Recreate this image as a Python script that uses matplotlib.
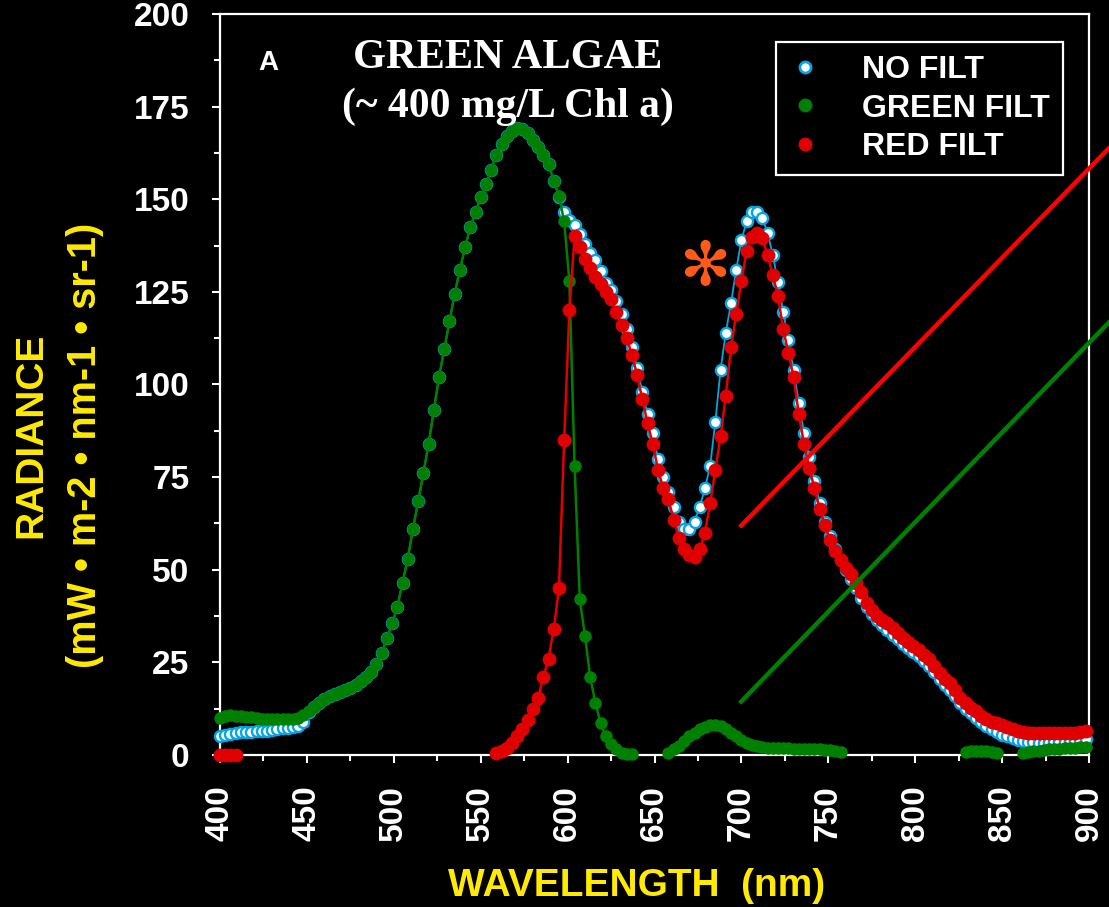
import numpy as np
import matplotlib
matplotlib.use("Agg")
import matplotlib.pyplot as plt
from matplotlib.lines import Line2D

# Sampling grid of the radiometer (nm)
wavelength = np.arange(400, 899, 3)

# NO FILT radiance
no_filt = [
    # 400-445
    5.0, 5.3, 5.6, 5.9, 6.1, 6.2, 6.3, 6.4, 6.5, 6.6, 6.8, 7.0, 7.2, 7.4, 7.6, 7.9,
    # 448-592
    9.0, 11.5, 13.0, 14.0, 15.0, 15.8, 16.5, 17.0, 17.5, 18.2,
    19.0, 20.0, 21.0, 22.5, 24.5, 27.5, 31.5, 35.5, 40.0, 46.5,
    53.0, 61.0, 68.5, 76.0, 84.0, 93.0, 102.0, 109.5, 117.0, 124.5,
    131.0, 137.0, 142.5, 146.5, 150.5, 154.0, 158.0, 162.0, 165.0, 167.0,
    168.5, 169.2, 169.0, 168.0, 166.0, 164.0, 162.0, 159.5, 155.0,
    # 595-898
    150.5, 146.5, 144.5, 143.0, 140.5, 138.0, 135.5, 133.5, 130.5, 127.5,
    125.5, 122.5, 119.0, 115.0, 110.0, 104.5, 98.0, 92.0, 87.0, 80.0,
    75.0, 71.0, 67.0, 63.0, 61.0, 61.0, 63.0, 67.0, 72.0, 78.0,
    90.0, 104.0, 114.0, 122.0, 131.0, 139.0, 144.0, 146.5, 146.6, 145.0,
    141.0, 135.0, 127.7, 119.6, 112.0, 104.0, 95.0, 87.0, 80.5, 74.0,
    68.0, 63.0, 59.0, 55.5, 52.5, 50.0, 47.5, 45.0, 42.5, 40.0,
    38.0, 36.5, 35.0, 33.8, 32.5, 31.3, 30.0, 28.8, 27.8, 26.8,
    25.5, 24.0, 22.3, 20.5, 19.0, 17.5, 15.8, 14.0, 12.5, 11.2,
    10.0, 8.8, 7.8, 7.0, 6.2, 5.5, 5.0, 4.5, 4.1, 3.8,
    3.6, 3.4, 3.3, 3.3, 3.4, 3.5, 3.5, 3.6, 3.7, 3.8,
    4.0, 4.2,
]

# GREEN FILT radiance (nan = below the axis, not drawn)
green_filt = [
    # 400-445
    10.0, 10.5, 10.8, 10.6, 10.5, 10.3, 10.2, 10.0, 9.8, 9.8, 9.7, 9.7, 9.6, 9.6, 9.8, 10.0,
    # 448-592
    10.8, 11.8, 13.0, 14.0, 15.0, 15.8, 16.5, 17.0, 17.5, 18.2,
    19.0, 20.0, 21.0, 22.5, 24.5, 27.5, 31.5, 35.5, 40.0, 46.5,
    53.0, 61.0, 68.5, 76.0, 84.0, 93.0, 102.0, 109.5, 117.0, 124.5,
    131.0, 137.0, 142.5, 146.5, 150.5, 154.0, 158.0, 162.0, 165.0, 167.0,
    168.5, 169.2, 169.0, 168.0, 166.0, 164.0, 162.0, 159.5, 155.0,
    # 595-898
    151.0, 144.0, 128.0, 78.0, 42.0, 32.0, 21.0, 14.0, 8.5, 5.0,
    3.0, 1.5, 0.6, 0.3, 0.2, np.nan, np.nan, np.nan, np.nan, np.nan,
    np.nan, 0.5, 1.5, 2.5, 3.8, 5.0, 6.0, 7.0, 7.5, 8.0,
    8.0, 7.8, 7.0, 6.0, 5.0, 4.0, 3.3, 2.8, 2.5, 2.2,
    2.0, 1.9, 1.9, 1.8, 1.8, 1.7, 1.7, 1.6, 1.6, 1.5,
    1.5, 1.4, 1.3, 1.0, 0.8,
] + [np.nan] * 23 + [
    0.8, 1.0, 1.2, 1.2, 1.0, 0.8, 0.5,
    np.nan, np.nan, np.nan, np.nan,
    0.5, 0.8, 1.0, 1.2, 1.3, 1.5, 1.6, 1.7, 1.8, 1.9,
    2.0, 2.1, 2.2,
]

# RED FILT radiance
red_filt = [0.0, 0.0, 0.0, 0.0] + [np.nan] * 49 + [
    # 559-898
    0.5, 1.0, 2.0, 3.3, 5.0, 7.0, 9.5, 12.5, 15.5, 21.0,
    26.0, 34.0, 45.0, 85.0, 120.0, 140.0, 137.0, 134.0, 131.5, 129.0,
    127.0, 125.0, 123.0, 119.5, 116.0, 112.5, 108.0, 102.5, 96.0, 89.5,
    84.0, 77.0, 72.0, 69.0, 63.5, 58.5, 55.5, 54.0, 53.5, 55.5,
    60.0, 68.0, 77.0, 86.0, 97.0, 110.0, 119.0, 128.0, 136.0, 139.8,
    141.0, 139.5, 135.0, 129.5, 124.0, 115.0, 108.5, 102.0, 92.0, 84.0,
    77.5, 72.0, 66.5, 62.0, 58.0, 55.0, 52.5, 50.5, 48.8, 46.5,
    44.0, 41.0, 39.0, 37.5, 36.5, 35.5, 34.3, 33.0, 31.5, 30.5,
    29.5, 28.3, 27.0, 25.8, 24.0, 22.0, 20.5, 19.3, 17.5, 15.5,
    14.0, 12.8, 11.8, 10.6, 9.8, 9.0, 8.5, 8.0, 7.5, 7.0,
    6.5, 6.2, 6.0, 6.0, 6.0, 6.0, 6.0, 6.0, 6.0, 6.0,
    6.0, 6.0, 6.2, 6.5,
]

# pointer lines drawn on the slide (wavelength, radiance)
red_pointer_x = [699, 915]
red_pointer_y = [61.5, 165.5]
green_pointer_x = [699, 915]
green_pointer_y = [14.0, 118.5]

BLUE = "#00A6E6"
GREEN = "#008000"
RED = "#E00000"
YELLOW = "#FFEA00"

plt.rcParams["font.family"] = ["Liberation Sans", "DejaVu Sans"]
plt.rcParams["font.weight"] = "bold"

fig = plt.figure(figsize=(11.09, 9.07), dpi=100, facecolor="black")
ax = fig.add_axes([0.1984, 0.1676, 0.7836, 0.8170], facecolor="black")

ax.plot(wavelength, no_filt, color=BLUE, lw=1.3, marker="o", ms=8,
        mfc="white", mec=BLUE, mew=1.7, clip_on=False, zorder=3)
ax.plot(wavelength, green_filt, color=GREEN, lw=1.8, marker="o", ms=8,
        mfc=GREEN, mec=GREEN, clip_on=False, zorder=4)
ax.plot(wavelength, red_filt, color=RED, lw=1.8, marker="o", ms=9,
        mfc=RED, mec=RED, clip_on=False, zorder=5)

ax.plot(red_pointer_x, red_pointer_y, color="#FF0000", lw=3.2, clip_on=False,
        solid_capstyle="butt", zorder=6)
ax.plot(green_pointer_x, green_pointer_y, color=GREEN, lw=3.2, clip_on=False,
        solid_capstyle="butt", zorder=6)

ax.set_xlim(400, 900)
ax.set_ylim(0, 200)
ax.set_xticks(np.arange(400, 901, 50))
ax.set_xticks(np.arange(400, 901, 25), minor=True)
ax.set_yticks(np.arange(0, 201, 25))
ax.set_yticks(np.arange(0, 201, 12.5), minor=True)

ax.tick_params(which="both", colors="white", direction="out", width=1.5)
ax.tick_params(which="major", length=6, labelsize=24)
ax.tick_params(which="minor", length=4)
ax.tick_params(axis="x", which="major", labelrotation=90, pad=16)
ax.tick_params(axis="y", which="major", pad=16)

for sp in ax.spines.values():
    sp.set_color("white")
    sp.set_linewidth(1.6)

# legend with markers only
handles = [
    Line2D([], [], ls="none", marker="o", ms=8, mfc="white", mec=BLUE, mew=2),
    Line2D([], [], ls="none", marker="o", ms=9, mfc=GREEN, mec=GREEN),
    Line2D([], [], ls="none", marker="o", ms=9, mfc=RED, mec=RED),
]
leg = ax.legend(handles, ["NO FILT", "GREEN FILT", "RED FILT"],
                loc="upper right", bbox_to_anchor=(0.970, 0.962), borderaxespad=0,
                fancybox=False, edgecolor="white", facecolor="black", framealpha=1,
                prop={"family": "Liberation Sans", "weight": "bold", "size": 23},
                labelcolor="white", handlelength=1.0, handletextpad=1.3,
                labelspacing=0.27, borderpad=0.4)
leg.get_frame().set_linewidth(1.6)

# title and panel letter
fig.text(507.5 / 1109, 1 - 68 / 907, "GREEN ALGAE", ha="center", va="baseline",
         color="white", fontsize=30.5, fontweight="bold", family="Liberation Serif")
fig.text(507.5 / 1109, 1 - 117 / 907, "(~ 400 mg/L Chl a)", ha="center", va="baseline",
         color="white", fontsize=30, fontweight="bold", family="Liberation Serif")
fig.text(268 / 1109, 1 - 70 / 907, "A", ha="center", va="baseline",
         color="white", fontsize=20, fontweight="bold")
fig.text(705 / 1109, 1 - 269 / 907, "\u273B", ha="center", va="center",
         color="#FF5A1A", fontsize=44, fontweight="normal", family="DejaVu Sans")

# axis titles
fig.text(31 / 1109, 1 - 435 / 907, "RADIANCE", rotation=90, ha="center", va="center",
         color=YELLOW, fontsize=28, fontweight="bold")
fig.text(85 / 1109, 1 - 445 / 907, "(mW \u2022 m-2 \u2022 nm-1 \u2022 sr-1)", rotation=90,
         ha="center", va="center", color=YELLOW, fontsize=28.5, fontweight="bold")
fig.text(637 / 1109, 1 - 896 / 907, "WAVELENGTH  (nm)", ha="center", va="baseline",
         color=YELLOW, fontsize=28, fontweight="bold")

fig.savefig("out.png", dpi=100, facecolor="black")
